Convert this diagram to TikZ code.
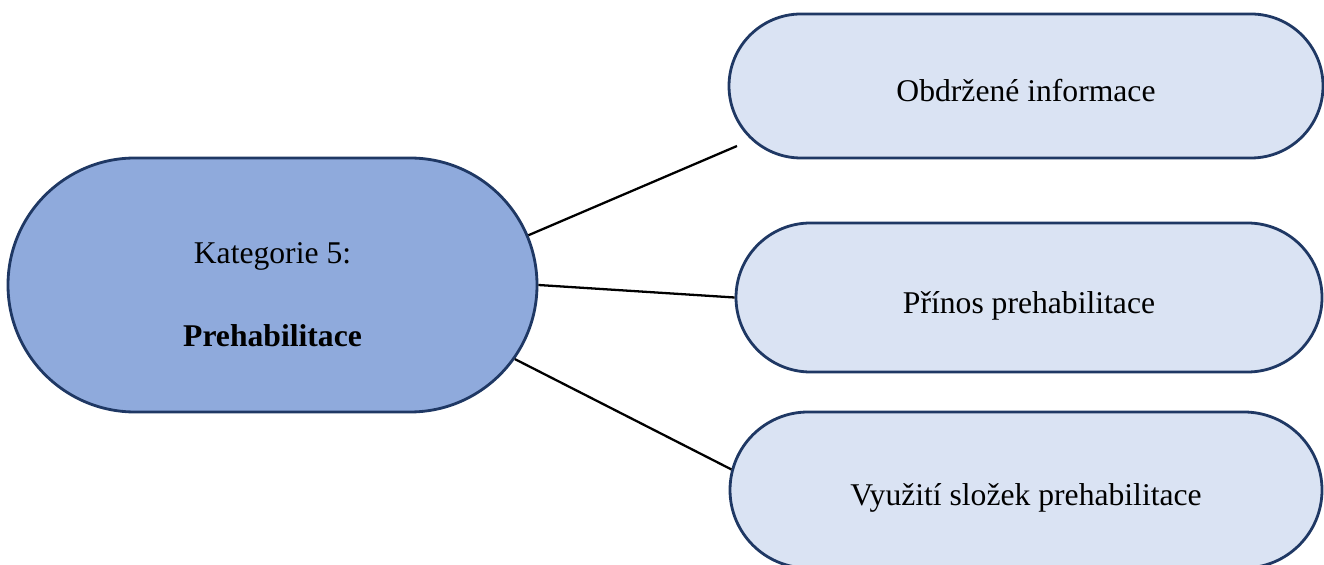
\documentclass[tikz,border=0pt]{standalone}
\usepackage{fontspec}
\setmainfont{Liberation Serif}
\usetikzlibrary{shapes.misc}
\definecolor{catFill}{HTML}{8FAADC}
\definecolor{subFill}{HTML}{DAE3F3}
\definecolor{rimBlue}{HTML}{1F3864}
\begin{document}
\begin{tikzpicture}[
  box/.style={draw=rimBlue, line width=1.6pt, rounded rectangle, inner sep=0pt,
    font=\fontsize{18}{21.6}\selectfont},
  cat/.style={box, fill=catFill, minimum width=10.58cm, minimum height=5.08cm, align=center},
  sub/.style={box, fill=subFill, text height=18pt, text depth=0pt},
  link/.style={draw, line width=1.3pt}]
\useasboundingbox (0,0) rectangle (26.48,-11.30);

\node[cat] (k) at (5.45,-5.70) {\rule{0pt}{22.5pt}Kategorie 5:\\[25.6pt]\textbf{Prehabilitace}};
\node[sub, minimum width=11.88cm, minimum height=2.88cm] (o) at (20.52,-1.72) {Obdržené informace};
\node[sub, minimum width=11.72cm, minimum height=2.98cm] (p) at (20.58,-5.95) {Přínos prehabilitace};
\node[sub, minimum width=11.84cm, minimum height=3.12cm] (v) at (20.52,-9.80) {Využití složek prehabilitace};
\coordinate (oEnd) at (14.74,-2.92);

\path[link] (k.11.7) -- (oEnd);
\path[link] (k.-0.7) -- (p.west);
\path[link] (k.-17.9) -- (v.176.9);
\end{tikzpicture}
\end{document}
